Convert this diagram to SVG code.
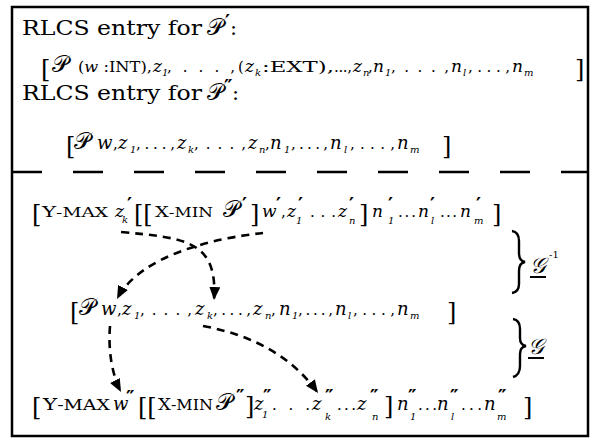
<svg xmlns="http://www.w3.org/2000/svg" width="591" height="439" viewBox="0 0 591 439">
<style>
text{font-family:"DejaVu Serif","Liberation Serif",serif;fill:#000}
.h{font-size:21px}
.i{font-style:italic}
.s{font-size:10px;font-style:italic}
.pr{font-size:19px;font-weight:bold}
.P{font-size:23px}
.br{font-size:24px}
.dots{font-size:15px}
.con path{fill:none;stroke:#000;stroke-width:2.6;stroke-dasharray:8 6}
.brace{fill:none;stroke:#000;stroke-width:2.4}
</style>
<defs>
<marker id="ah" markerUnits="userSpaceOnUse" markerWidth="14" markerHeight="12" refX="13" refY="5.5" orient="auto">
<path d="M0,0 L13,5.5 L0,11 Z" fill="#000"/>
</marker>
</defs>
<rect x="0" y="0" width="591" height="439" fill="#fff"/>
<rect x="12" y="7" width="576" height="429" fill="#fff" stroke="#000" stroke-width="2.5"/>
<line x1="12" y1="172" x2="588" y2="172" stroke="#000" stroke-width="2.5" stroke-dasharray="30 31"/>

<g id="entry1">
<text class="h" x="22" y="35" textLength="180" lengthAdjust="spacingAndGlyphs">RLCS entry for</text>
<text class="P" x="207" y="35">𝒫</text>
<text class="pr" x="225" y="28">′</text>
<text class="h" x="230" y="35">:</text>
<text class="br" x="41" y="77" font-size="28">[</text>
<text class="P" x="52" y="72">𝒫</text>
<text x="78" y="72" font-size="14" textLength="74" lengthAdjust="spacingAndGlyphs">(<tspan class="i">w</tspan> :INT),</text>
<text class="i" x="153" y="72" font-size="17">z</text>
<text class="s" x="162" y="76">1</text>
<text class="dots" x="167" y="72" textLength="68" lengthAdjust="spacing">,...,</text>
<text x="238" y="72" font-size="15">(</text>
<text class="i" x="245" y="72" font-size="17">z</text>
<text class="s" x="255" y="76">k</text>
<text x="262" y="72" font-size="15" textLength="72" lengthAdjust="spacingAndGlyphs">:EXT),</text>
<text class="dots" x="334" y="72" textLength="18" lengthAdjust="spacing">...,</text>
<text class="i" x="353" y="72" font-size="17">z</text>
<text class="s" x="363" y="76">n</text>
<text class="dots" x="368" y="72">,</text>
<text class="i" x="373" y="72" font-size="17">n</text>
<text class="s" x="385" y="76">1</text>
<text class="dots" x="391" y="72" textLength="58" lengthAdjust="spacing">,...,</text>
<text class="i" x="451" y="72" font-size="17">n</text>
<text class="s" x="463" y="76">l</text>
<text class="dots" x="468" y="72" textLength="42" lengthAdjust="spacing">,...,</text>
<text class="i" x="512" y="72" font-size="17">n</text>
<text class="s" x="524" y="76">m</text>
<text class="br" x="575" y="77" font-size="28">]</text>
</g>

<g id="entry2">
<text class="h" x="22" y="100" textLength="180" lengthAdjust="spacingAndGlyphs">RLCS entry for</text>
<text class="P" x="207" y="100">𝒫</text>
<text class="pr" x="224" y="93">″</text>
<text class="h" x="232" y="100">:</text>
<text class="br" x="66" y="154" font-size="27">[</text>
<text class="P" x="74" y="149" font-size="24">𝒫</text>
<text class="i" x="97" y="149" font-size="18">w</text>
<text class="dots" x="113" y="149">,</text>
<text class="i" x="118" y="149" font-size="18">z</text>
<text class="s" x="130" y="153">1</text>
<text class="dots" x="136" y="149" textLength="39" lengthAdjust="spacing">,...,</text>
<text class="i" x="177" y="149" font-size="18">z</text>
<text class="s" x="188" y="153">k</text>
<text class="dots" x="194" y="149" textLength="52" lengthAdjust="spacing">,...,</text>
<text class="i" x="248" y="149" font-size="18">z</text>
<text class="s" x="259" y="153">n</text>
<text class="dots" x="265" y="149">,</text>
<text class="i" x="270" y="149" font-size="18">n</text>
<text class="s" x="284" y="153">1</text>
<text class="dots" x="291" y="149" textLength="37" lengthAdjust="spacing">,...,</text>
<text class="i" x="330" y="149" font-size="18">n</text>
<text class="s" x="344" y="153">l</text>
<text class="dots" x="350" y="149" textLength="45" lengthAdjust="spacing">,...,</text>
<text class="i" x="397" y="149" font-size="18">n</text>
<text class="s" x="410" y="153">m</text>
<text class="br" x="442" y="154" font-size="27">]</text>
</g>

<g id="lineA">
<text class="br" x="32" y="222" font-size="22">[</text>
<text x="42" y="217" textLength="66" lengthAdjust="spacingAndGlyphs"><tspan font-size="15">Y</tspan><tspan font-size="13">-MAX</tspan></text>
<text class="i" x="115" y="217" font-size="17">z</text>
<text class="s" x="122" y="223">k</text>
<text class="pr" x="127" y="211">′</text>
<text class="br" x="134" y="222">[[</text>
<text x="155" y="217" textLength="58" lengthAdjust="spacingAndGlyphs"><tspan font-size="15">X</tspan><tspan font-size="13">-MIN</tspan></text>
<text class="P" x="223" y="217">𝒫</text>
<text class="pr" x="242" y="211">′</text>
<text class="br" x="250" y="222">]</text>
<text class="i" x="262" y="217" font-size="17">w</text>
<text class="pr" x="276" y="211">′</text>
<text class="dots" x="281" y="217">,</text>
<text class="i" x="287" y="217" font-size="17">z</text>
<text class="s" x="296" y="224">1</text>
<text class="pr" x="298" y="211">′</text>
<text class="dots" x="310" y="217" textLength="26" lengthAdjust="spacing">...</text>
<text class="i" x="338" y="217" font-size="17">z</text>
<text class="s" x="349" y="224">n</text>
<text class="pr" x="349" y="211">′</text>
<text class="br" x="359" y="222">]</text>
<text class="i" x="372" y="217" font-size="17">n</text>
<text class="s" x="388" y="224">1</text>
<text class="pr" x="388" y="211">′</text>
<text class="dots" x="398" y="217" textLength="18" lengthAdjust="spacing">...</text>
<text class="i" x="418" y="217" font-size="17">n</text>
<text class="s" x="431" y="224">l</text>
<text class="pr" x="430" y="211">′</text>
<text class="dots" x="440" y="217" textLength="17" lengthAdjust="spacing">...</text>
<text class="i" x="460" y="217" font-size="17">n</text>
<text class="s" x="474" y="224">m</text>
<text class="pr" x="476" y="211">′</text>
<text class="br" x="492" y="222">]</text>
</g>

<g id="lineB">
<text class="br" x="70" y="320" font-size="27">[</text>
<text class="P" x="79" y="315" font-size="24">𝒫</text>
<text class="i" x="101" y="315" font-size="18">w</text>
<text class="dots" x="117" y="315">,</text>
<text class="i" x="122" y="315" font-size="18">z</text>
<text class="s" x="134" y="319">1</text>
<text class="dots" x="140" y="315" textLength="52" lengthAdjust="spacing">,...,</text>
<text class="i" x="195" y="315" font-size="18">z</text>
<text class="s" x="207" y="319">k</text>
<text class="dots" x="213" y="315" textLength="38" lengthAdjust="spacing">,...,</text>
<text class="i" x="253" y="315" font-size="18">z</text>
<text class="s" x="265" y="319">n</text>
<text class="dots" x="271" y="315">,</text>
<text class="i" x="279" y="315" font-size="18">n</text>
<text class="s" x="292" y="319">1</text>
<text class="dots" x="298" y="315" textLength="35" lengthAdjust="spacing">,...,</text>
<text class="i" x="335" y="315" font-size="18">n</text>
<text class="s" x="348" y="319">l</text>
<text class="dots" x="353" y="315" textLength="42" lengthAdjust="spacing">,...,</text>
<text class="i" x="397" y="315" font-size="18">n</text>
<text class="s" x="410" y="319">m</text>
<text class="br" x="447" y="320" font-size="27">]</text>
</g>

<g id="lineC">
<text class="br" x="32" y="415" font-size="24">[</text>
<text x="43" y="410" textLength="67" lengthAdjust="spacingAndGlyphs"><tspan font-size="17">Y</tspan><tspan font-size="15">-MAX</tspan></text>
<text class="i" x="113" y="410" font-size="18">w</text>
<text class="pr" x="126" y="404">″</text>
<text class="br" x="138" y="415" font-size="26">[[</text>
<text x="158" y="410" textLength="55" lengthAdjust="spacingAndGlyphs"><tspan font-size="17">X</tspan><tspan font-size="15">-MIN</tspan></text>
<text class="P" x="216" y="410" font-size="25">𝒫</text>
<text class="pr" x="236" y="403">″</text>
<text class="br" x="245" y="414" font-size="22">]</text>
<text class="i" x="254" y="410" font-size="18">z</text>
<text class="s" x="262" y="418">1</text>
<text class="pr" x="263" y="403">″</text>
<text class="dots" x="272" y="410" textLength="38" lengthAdjust="spacing">...</text>
<text class="i" x="312" y="410" font-size="18">z</text>
<text class="s" x="325" y="420">k</text>
<text class="pr" x="325" y="403">″</text>
<text class="dots" x="337" y="410" textLength="19" lengthAdjust="spacing">...</text>
<text class="i" x="357" y="410" font-size="18">z</text>
<text class="s" x="372" y="420">n</text>
<text class="pr" x="370" y="403">″</text>
<text class="br" x="384" y="414" font-size="22">]</text>
<text class="i" x="397" y="410" font-size="18">n</text>
<text class="s" x="410" y="420">1</text>
<text class="pr" x="408" y="403">″</text>
<text class="dots" x="418" y="410" textLength="19" lengthAdjust="spacing">...</text>
<text class="i" x="437" y="410" font-size="18">n</text>
<text class="s" x="451" y="420">l</text>
<text class="pr" x="450" y="403">″</text>
<text class="dots" x="461" y="410" textLength="21" lengthAdjust="spacing">...</text>
<text class="i" x="484" y="410" font-size="18">n</text>
<text class="s" x="497" y="420">m</text>
<text class="pr" x="498" y="403">″</text>
<text class="br" x="523" y="415" font-size="26">]</text>
</g>

<g id="g-inverse">
<path class="brace" d="M512,231 Q519,232 519,241 L519,253 Q519,261 525,262 Q519,263 519,271 L519,284 Q519,292 512,293"/>
<text x="530" y="273" font-size="22" font-style="italic">𝒢</text>
<line x1="530" y1="277" x2="546" y2="277" stroke="#000" stroke-width="2"/>
<text x="549" y="258" font-size="10">-1</text>
</g>

<g id="g-forward">
<path class="brace" d="M513,319 Q520,320 520,329 L520,338 Q520,345 526,346 Q520,347 520,354 L520,366 Q520,375 513,377"/>
<text x="528" y="354" font-size="22" font-style="italic">𝒢</text>
<line x1="528" y1="358" x2="544" y2="358" stroke="#000" stroke-width="2"/>
</g>

<g id="connectors" class="con">
<path d="M121,232 C185,238 218,240 214,300" marker-end="url(#ah)"/>
<path d="M263,233 C215,238 140,255 117,299" marker-end="url(#ah)"/>
<path d="M110,326 C108,350 112,375 121,392" marker-end="url(#ah)"/>
<path d="M203,326 Q280,340 318,393" marker-end="url(#ah)"/>
</g>
</svg>
